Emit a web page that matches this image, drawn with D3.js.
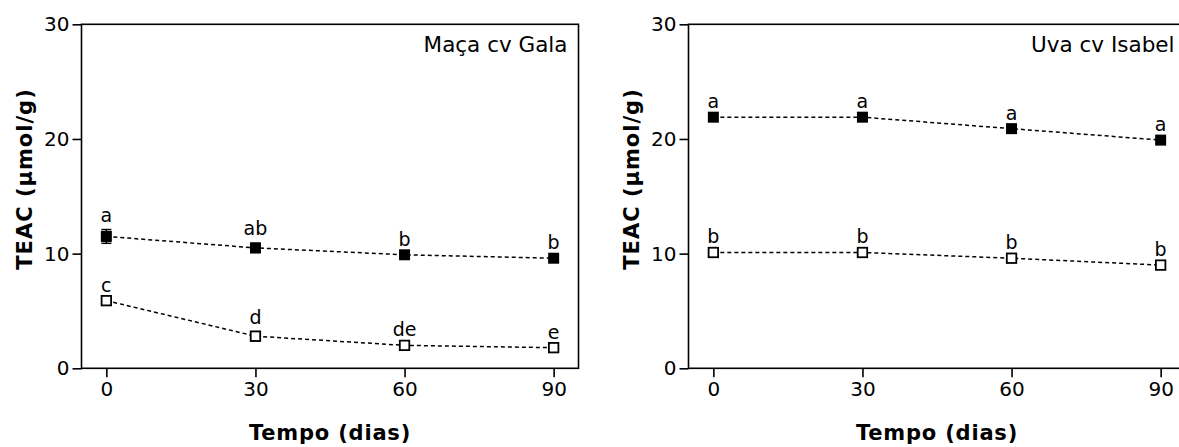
<!DOCTYPE html>
<html>
<head>
<meta charset="utf-8">
<script src="https://cdn.jsdelivr.net/npm/d3@7"></script>
<style>
    body { margin: 0; background: #fff; overflow: hidden; }
    svg text { font-family: "DejaVu Sans", Verdana, sans-serif; fill: #000; }
</style>
</head>
<body>
<div id="chart"></div>
<script>
// storage days (x)
const days = [0, 30, 60, 90];
const yTicks = [0, 10, 20, 30];

// Maçã cv Gala
const galaFilled = [11.5, 10.5, 9.9, 9.6];
const galaFilledErr = [0.6, 0.4, 0.1, 0.1];
const galaFilledLetters = ["a", "ab", "b", "b"];
const galaOpen = [5.9, 2.8, 2.0, 1.8];
const galaOpenErr = [0.1, 0.4, 0.1, 0.1];
const galaOpenLetters = ["c", "d", "de", "e"];

// Uva cv Isabel
const isabelFilled = [21.9, 21.9, 20.9, 19.9];
const isabelFilledErr = [0.1, 0.1, 0.1, 0.1];
const isabelFilledLetters = ["a", "a", "a", "a"];
const isabelOpen = [10.1, 10.1, 9.6, 9.0];
const isabelOpenErr = [0.1, 0.1, 0.1, 0.1];
const isabelOpenLetters = ["b", "b", "b", "b"];

const panels = [
    {
        title: "Maça cv Gala", left: 81.5,
        series: [
            {values: galaFilled, err: galaFilledErr, letters: galaFilledLetters, filled: true},
            {values: galaOpen, err: galaOpenErr, letters: galaOpenLetters, filled: false}
        ]
    },
    {
        title: "Uva cv Isabel", left: 688.5,
        series: [
            {values: isabelFilled, err: isabelFilledErr, letters: isabelFilledLetters, filled: true},
            {values: isabelOpen, err: isabelOpenErr, letters: isabelOpenLetters, filled: false}
        ]
    }
];

const W = 1179, H = 447;
const plotTop = 24.3, plotBottom = 368.3;
const panelWidth = 497;
const tickLen = 9;
const tickFont = 20;
const letterFont = 19;
const titleFont = 21;

const svg = d3.select("#chart").append("svg")
    .attr("width", W)
    .attr("height", H);

const ySc = d3.scaleLinear().domain([0, 30]).range([plotBottom, plotTop]);

function drawPanel(p) {
    let g = svg.append("g");
    let xSc = d3.scaleLinear().domain([-5, 95]).range([p.left, p.left + panelWidth]);

    // frame
    g.append("rect")
        .attr("x", p.left)
        .attr("y", plotTop)
        .attr("width", panelWidth)
        .attr("height", plotBottom - plotTop)
        .attr("fill", "none")
        .attr("stroke", "#000")
        .attr("stroke-width", 1.6);

    // y axis
    let yAxis = g.append("g")
        .attr("transform", "translate(" + p.left + ",0)")
        .call(d3.axisLeft(ySc).tickValues(yTicks).tickSize(tickLen).tickPadding(3));
    yAxis.select(".domain").remove();
    yAxis.selectAll("line").attr("stroke-width", 1.6);
    yAxis.selectAll("text")
        .attr("font-size", tickFont)
        .attr("font-family", "DejaVu Sans, sans-serif");

    // x axis
    let xAxis = g.append("g")
        .attr("transform", "translate(0," + plotBottom + ")")
        .call(d3.axisBottom(xSc).tickValues(days).tickSize(tickLen).tickPadding(5));
    xAxis.select(".domain").remove();
    xAxis.selectAll("line").attr("stroke-width", 1.6);
    xAxis.selectAll("text")
        .attr("font-size", tickFont)
        .attr("font-family", "DejaVu Sans, sans-serif");

    // axis titles
    g.append("text")
        .attr("transform", "translate(" + (p.left - 50) + "," + 179 + ") rotate(-90)")
        .attr("text-anchor", "middle")
        .attr("font-size", titleFont)
        .attr("font-weight", "bold")
        .attr("letter-spacing", 1)
        .text("TEAC (µmol/g)");

    g.append("text")
        .attr("x", p.left + panelWidth / 2)
        .attr("y", 440)
        .attr("text-anchor", "middle")
        .attr("font-size", titleFont)
        .attr("font-weight", "bold")
        .attr("letter-spacing", 0.8)
        .text("Tempo (dias)");

    // panel label
    g.append("text")
        .attr("x", p.left + panelWidth - 11)
        .attr("y", 52)
        .attr("text-anchor", "end")
        .attr("font-size", 21.5)
        .text(p.title);

    let line = d3.line()
        .x((d, i) => xSc(days[i]))
        .y((d) => ySc(d));

    for (let s of p.series) {
        let sg = g.append("g");

        sg.append("path")
            .datum(s.values)
            .attr("d", line)
            .attr("fill", "none")
            .attr("stroke", "#000")
            .attr("stroke-width", 1.5)
            .attr("stroke-dasharray", "4,3");

        // error bars
        let eb = sg.selectAll(".eb")
            .data(s.values)
            .enter().append("g")
            .attr("class", "eb");
        eb.append("line")
            .attr("x1", (d, i) => xSc(days[i]))
            .attr("x2", (d, i) => xSc(days[i]))
            .attr("y1", (d, i) => ySc(d - s.err[i]))
            .attr("y2", (d, i) => ySc(d + s.err[i]))
            .attr("stroke", "#000")
            .attr("stroke-width", 1.5);
        eb.append("line")
            .attr("x1", (d, i) => xSc(days[i]) - 5)
            .attr("x2", (d, i) => xSc(days[i]) + 5)
            .attr("y1", (d, i) => ySc(d + s.err[i]))
            .attr("y2", (d, i) => ySc(d + s.err[i]))
            .attr("stroke", "#000")
            .attr("stroke-width", 1.5);
        eb.append("line")
            .attr("x1", (d, i) => xSc(days[i]) - 5)
            .attr("x2", (d, i) => xSc(days[i]) + 5)
            .attr("y1", (d, i) => ySc(d - s.err[i]))
            .attr("y2", (d, i) => ySc(d - s.err[i]))
            .attr("stroke", "#000")
            .attr("stroke-width", 1.5);

        // markers
        let size = s.filled ? 11 : 9.5;
        sg.selectAll(".mk")
            .data(s.values)
            .enter().append("rect")
            .attr("class", "mk")
            .attr("x", (d, i) => xSc(days[i]) - size / 2)
            .attr("y", (d) => ySc(d) - size / 2)
            .attr("width", size)
            .attr("height", size)
            .attr("fill", s.filled ? "#000" : "#fff")
            .attr("stroke", s.filled ? "none" : "#000")
            .attr("stroke-width", 1.8);

        // significance letters
        sg.selectAll(".lt")
            .data(s.values)
            .enter().append("text")
            .attr("class", "lt")
            .attr("x", (d, i) => xSc(days[i]))
            .attr("y", (d, i) => ySc(d + s.err[i]) - 8)
            .attr("text-anchor", "middle")
            .attr("font-size", letterFont)
            .text((d, i) => s.letters[i]);
    }
}

panels.forEach(drawPanel);
</script>
</body>
</html>
